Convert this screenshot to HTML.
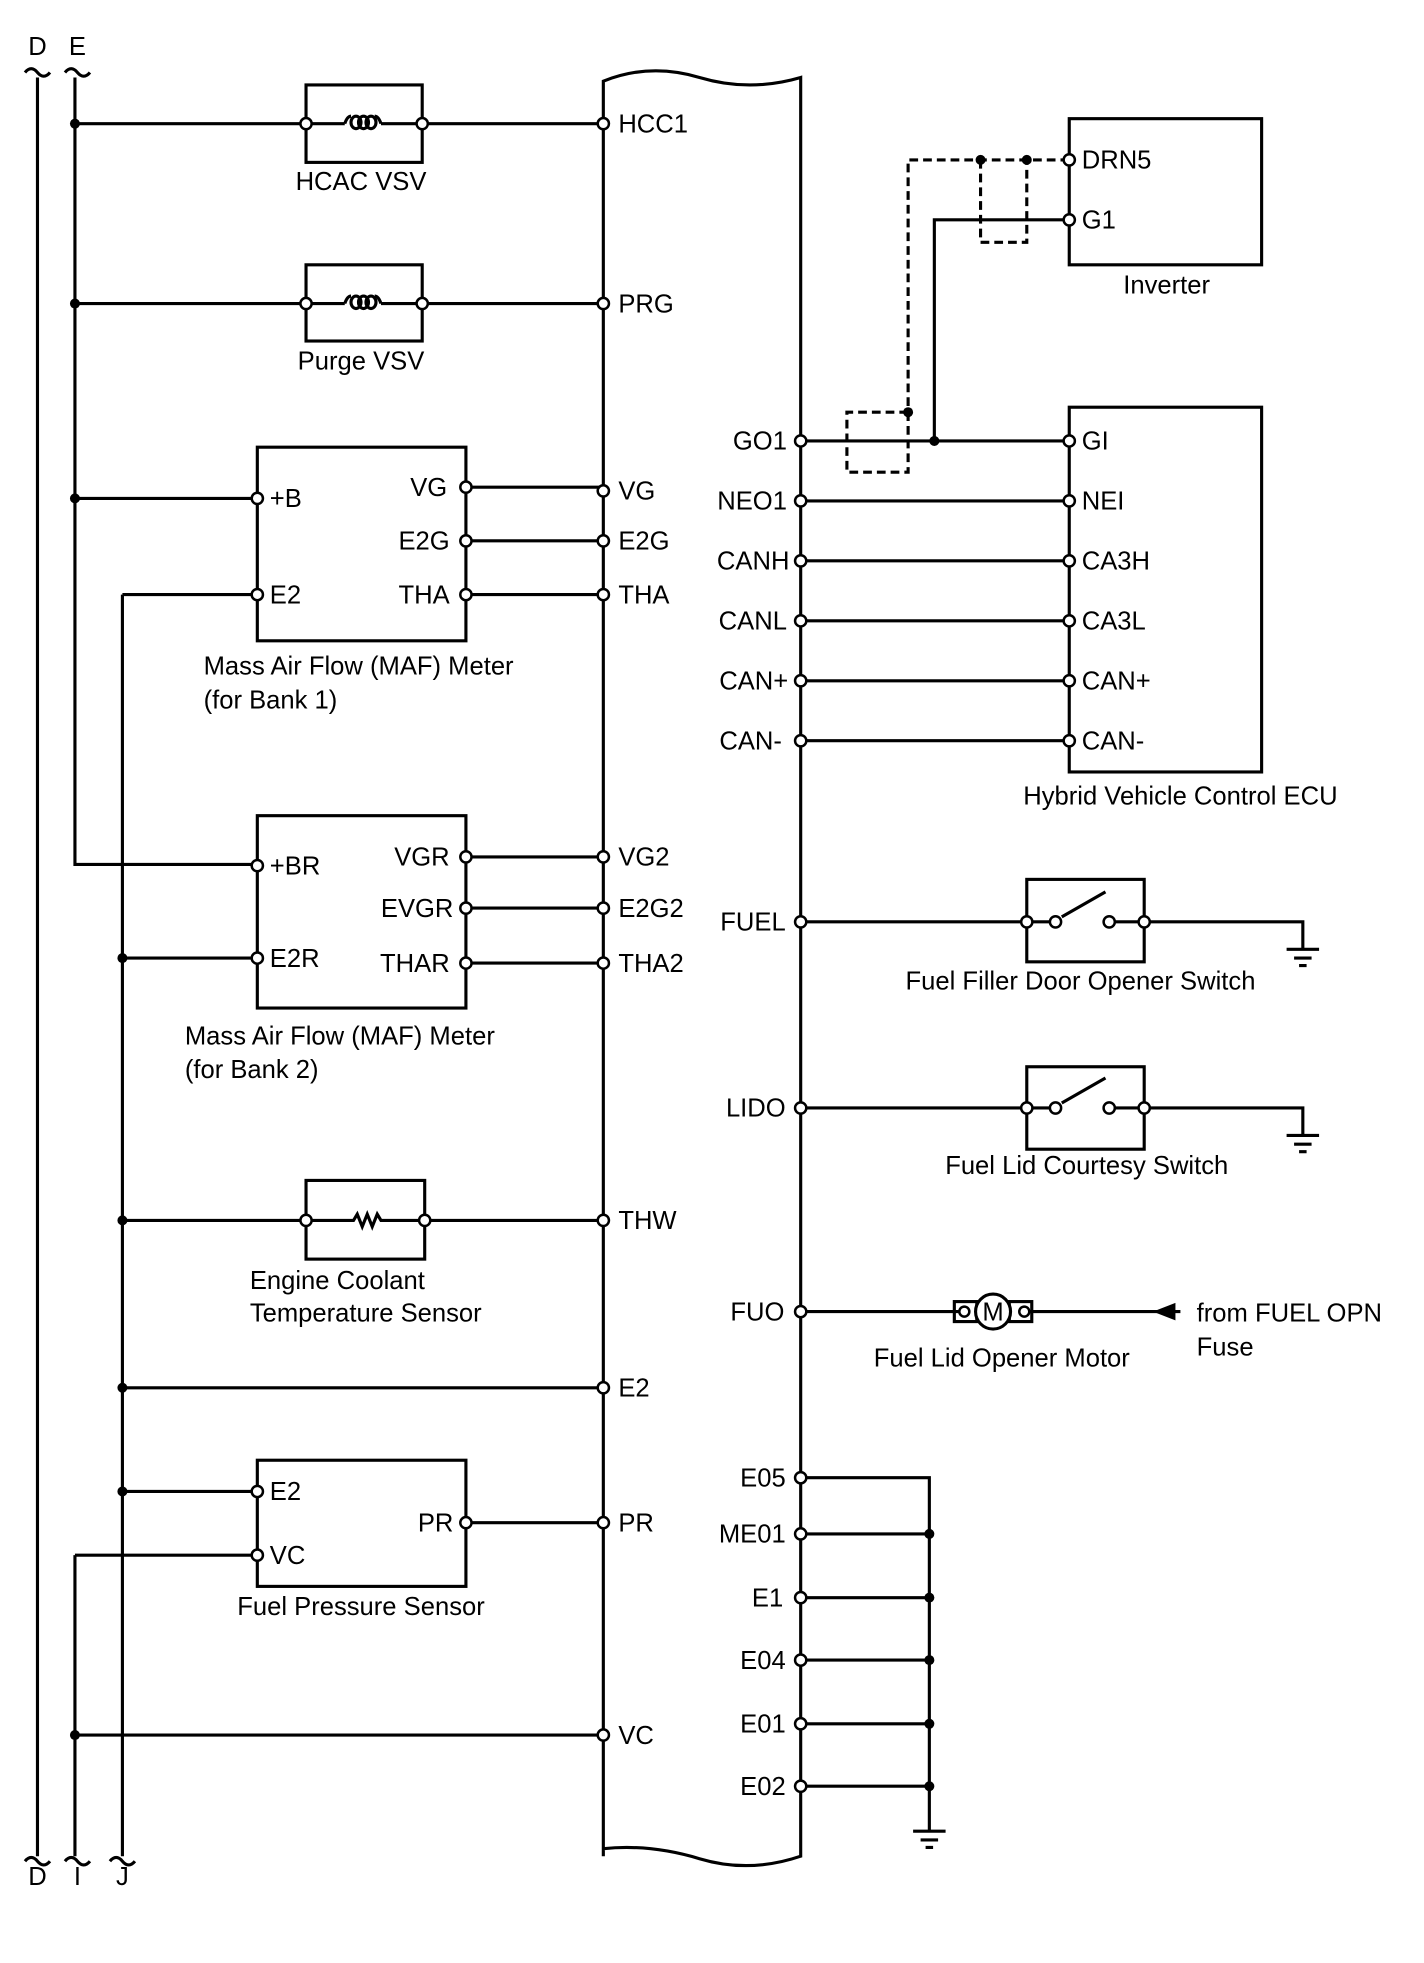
<!DOCTYPE html>
<html><head><meta charset="utf-8"><style>html,body{margin:0;padding:0;background:#fff}svg{display:block}text{font-family:"Liberation Sans",sans-serif;font-size:20.5px;fill:#000}</style></head><body>
<svg width="1424" height="1963" viewBox="0 0 1140 1571.5" xmlns="http://www.w3.org/2000/svg">
<g stroke="#000" stroke-width="2.5" fill="none">
<path d="M30 62V1486M60 62V692H206M60 1245V1486M98 476V1486"/>
<path d="M20 58q5-6 10 0t10 0M52 58q5-6 10 0t10 0M20 1490q5-6 10 0t10 0M52 1490q5-6 10 0t10 0M88 1490q5-6 10 0t10 0"/>
<path d="M483 1486V65Q520 50 560 62T641 62V1486Q600 1500 560 1488T483 1480"/>
<rect x="245" y="68" width="93" height="62"/>
<path d="M60 99H245M338 99H483M245 99H276M305 99H338"/>
<path d="M276 99q2-6 5-6M305 99q-2-6-5-6"/><ellipse cx="285" cy="98" rx="4" ry="5"/><ellipse cx="291" cy="98" rx="4" ry="5"/><ellipse cx="297" cy="98" rx="4" ry="5"/>
<rect x="245" y="212" width="93" height="61"/>
<path d="M60 243H245M338 243H483M245 243H276M305 243H338"/>
<path d="M276 243q2-6 5-6M305 243q-2-6-5-6"/><ellipse cx="285" cy="242" rx="4" ry="5"/><ellipse cx="291" cy="242" rx="4" ry="5"/><ellipse cx="297" cy="242" rx="4" ry="5"/>
<rect x="206" y="358" width="167" height="155"/>
<path d="M60 399H206M98 476H206M373 390H483M373 433H483M373 476H483"/>
<rect x="206" y="653" width="167" height="154"/>
<path d="M98 767H206M373 686H483M373 727H483M373 771H483"/>
<rect x="245" y="945" width="95" height="63"/>
<path d="M98 977H283l3-5 4 10 4-10 4 10 4-10 3 5H483"/>
<path d="M98 1111H483"/>
<rect x="206" y="1169" width="167" height="101"/>
<path d="M98 1194H206M60 1245H206M373 1219H483M60 1389H483"/>
<rect x="856" y="95" width="154" height="117"/>
<rect x="856" y="326" width="154" height="292"/>
<path d="M641 353H856M748 353V176H856M641 401H856M641 449H856M641 497H856M641 545H856M641 593H856"/>
<path stroke-dasharray="7,4" d="M856 128H727V330M785 128V194H822V128M727 330H678V378H727V330"/>
<rect x="822" y="704" width="94" height="66"/>
<path d="M641 738H845M888 738H1043V760M1030 760h26M1036 767h14M1040 773h6M850 734l35-20"/>
<rect x="822" y="854" width="94" height="66"/>
<path d="M641 887H845M888 887H1043V909M1030 909h26M1036 916h14M1040 922h6M850 883l35-20"/>
<path d="M641 1050H768M822 1050H945"/>
<rect x="764" y="1042" width="18" height="16"/><rect x="808" y="1042" width="18" height="16"/>
<circle cx="795" cy="1050" r="14" fill="#fff"/>
<path d="M641 1183H744V1465M641 1228H744M641 1279H744M641 1329H744M641 1380H744M641 1430H744M731 1466h26M737 1473h14M741 1479h6"/>
</g>
<path d="M923 1050l18-7v14z" fill="#000"/>
<g fill="#000">
<circle cx="60" cy="99" r="4"/><circle cx="60" cy="243" r="4"/><circle cx="60" cy="399" r="4"/>
<circle cx="98" cy="767" r="4"/><circle cx="98" cy="977" r="4"/><circle cx="98" cy="1111" r="4"/><circle cx="98" cy="1194" r="4"/><circle cx="60" cy="1389" r="4"/>
<circle cx="748" cy="353" r="4"/><circle cx="727" cy="330" r="4"/><circle cx="785" cy="128" r="4"/><circle cx="822" cy="128" r="4"/>
<circle cx="744" cy="1228" r="4"/><circle cx="744" cy="1279" r="4"/><circle cx="744" cy="1329" r="4"/><circle cx="744" cy="1380" r="4"/><circle cx="744" cy="1430" r="4"/>
</g>
<g fill="#fff" stroke="#000" stroke-width="2">
<circle cx="245" cy="99" r="4.5"/><circle cx="338" cy="99" r="4.5"/><circle cx="483" cy="99" r="4.5"/>
<circle cx="245" cy="243" r="4.5"/><circle cx="338" cy="243" r="4.5"/><circle cx="483" cy="243" r="4.5"/>
<circle cx="206" cy="399" r="4.5"/><circle cx="206" cy="476" r="4.5"/><circle cx="373" cy="390" r="4.5"/><circle cx="373" cy="433" r="4.5"/><circle cx="373" cy="476" r="4.5"/>
<circle cx="483" cy="393" r="4.5"/><circle cx="483" cy="433" r="4.5"/><circle cx="483" cy="476" r="4.5"/>
<circle cx="206" cy="693" r="4.5"/><circle cx="206" cy="767" r="4.5"/><circle cx="373" cy="686" r="4.5"/><circle cx="373" cy="727" r="4.5"/><circle cx="373" cy="771" r="4.5"/>
<circle cx="483" cy="686" r="4.5"/><circle cx="483" cy="727" r="4.5"/><circle cx="483" cy="771" r="4.5"/>
<circle cx="245" cy="977" r="4.5"/><circle cx="340" cy="977" r="4.5"/><circle cx="483" cy="977" r="4.5"/><circle cx="483" cy="1111" r="4.5"/>
<circle cx="206" cy="1194" r="4.5"/><circle cx="206" cy="1245" r="4.5"/><circle cx="373" cy="1219" r="4.5"/><circle cx="483" cy="1219" r="4.5"/><circle cx="483" cy="1389" r="4.5"/>
<circle cx="641" cy="353" r="4.5"/><circle cx="641" cy="401" r="4.5"/><circle cx="641" cy="449" r="4.5"/><circle cx="641" cy="497" r="4.5"/><circle cx="641" cy="545" r="4.5"/><circle cx="641" cy="593" r="4.5"/>
<circle cx="856" cy="128" r="4.5"/><circle cx="856" cy="176" r="4.5"/>
<circle cx="856" cy="353" r="4.5"/><circle cx="856" cy="401" r="4.5"/><circle cx="856" cy="449" r="4.5"/><circle cx="856" cy="497" r="4.5"/><circle cx="856" cy="545" r="4.5"/><circle cx="856" cy="593" r="4.5"/>
<circle cx="641" cy="738" r="4.5"/><circle cx="822" cy="738" r="4.5"/><circle cx="845" cy="738" r="4.5"/><circle cx="888" cy="738" r="4.5"/><circle cx="916" cy="738" r="4.5"/>
<circle cx="641" cy="887" r="4.5"/><circle cx="822" cy="887" r="4.5"/><circle cx="845" cy="887" r="4.5"/><circle cx="888" cy="887" r="4.5"/><circle cx="916" cy="887" r="4.5"/>
<circle cx="641" cy="1050" r="4.5"/><circle cx="772" cy="1050" r="4"/><circle cx="820" cy="1050" r="4"/>
<circle cx="641" cy="1183" r="4.5"/><circle cx="641" cy="1228" r="4.5"/><circle cx="641" cy="1279" r="4.5"/><circle cx="641" cy="1329" r="4.5"/><circle cx="641" cy="1380" r="4.5"/><circle cx="641" cy="1430" r="4.5"/>
</g>
<g>
<text x="30" y="44" text-anchor="middle">D</text><text x="62" y="44" text-anchor="middle">E</text>
<text x="30" y="1509" text-anchor="middle">D</text><text x="62" y="1509" text-anchor="middle">I</text><text x="98" y="1509" text-anchor="middle">J</text>
<text x="289" y="152" text-anchor="middle">HCAC VSV</text>
<text x="289" y="296" text-anchor="middle">Purge VSV</text>
<text x="216" y="406">+B</text><text x="216" y="483">E2</text>
<text x="358" y="397" text-anchor="end">VG</text><text x="360" y="440" text-anchor="end">E2G</text><text x="360" y="483" text-anchor="end">THA</text>
<text x="163" y="540">Mass Air Flow (MAF) Meter</text><text x="163" y="567">(for Bank 1)</text>
<text x="216" y="700">+BR</text><text x="216" y="774">E2R</text>
<text x="360" y="693" text-anchor="end">VGR</text><text x="363" y="734" text-anchor="end">EVGR</text><text x="360" y="778" text-anchor="end">THAR</text>
<text x="148" y="836">Mass Air Flow (MAF) Meter</text><text x="148" y="863">(for Bank 2)</text>
<text x="200" y="1032">Engine Coolant</text><text x="200" y="1058">Temperature Sensor</text>
<text x="216" y="1201">E2</text><text x="216" y="1252">VC</text><text x="363" y="1226" text-anchor="end">PR</text>
<text x="289" y="1293" text-anchor="middle">Fuel Pressure Sensor</text>
<text x="495" y="106">HCC1</text><text x="495" y="250">PRG</text><text x="495" y="400">VG</text><text x="495" y="440">E2G</text><text x="495" y="483">THA</text>
<text x="495" y="693">VG2</text><text x="495" y="734">E2G2</text><text x="495" y="778">THA2</text><text x="495" y="984">THW</text><text x="495" y="1118">E2</text><text x="495" y="1226">PR</text><text x="495" y="1396">VC</text>
<g text-anchor="end">
<text x="630" y="360">GO1</text><text x="630" y="408">NEO1</text><text x="632" y="456">CANH</text><text x="630" y="504">CANL</text><text x="631" y="552">CAN+</text><text x="626" y="600">CAN-</text>
<text x="629" y="745">FUEL</text><text x="629" y="894">LIDO</text><text x="628" y="1057">FUO</text>
<text x="629" y="1190">E05</text><text x="629" y="1235">ME01</text><text x="627" y="1286">E1</text><text x="629" y="1336">E04</text><text x="629" y="1387">E01</text><text x="629" y="1437">E02</text>
</g>
<text x="866" y="135">DRN5</text><text x="866" y="183">G1</text><text x="934" y="235" text-anchor="middle">Inverter</text>
<text x="866" y="360">GI</text><text x="866" y="408">NEI</text><text x="866" y="456">CA3H</text><text x="866" y="504">CA3L</text><text x="866" y="552">CAN+</text><text x="866" y="600">CAN-</text>
<text x="945" y="644" text-anchor="middle">Hybrid Vehicle Control ECU</text>
<text x="865" y="792" text-anchor="middle">Fuel Filler Door Opener Switch</text>
<text x="870" y="940" text-anchor="middle">Fuel Lid Courtesy Switch</text>
<text x="795" y="1057" text-anchor="middle">M</text>
<text x="802" y="1094" text-anchor="middle">Fuel Lid Opener Motor</text>
<text x="958" y="1058">from FUEL OPN</text><text x="958" y="1085">Fuse</text>
</g>
</svg>
</body></html>
